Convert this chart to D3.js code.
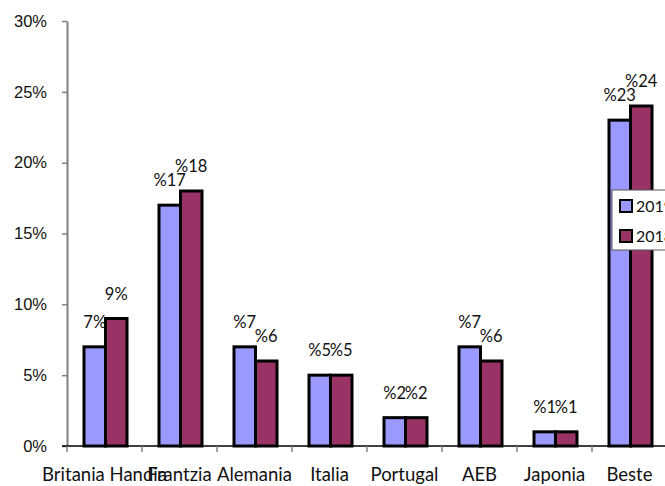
<!DOCTYPE html>
<html>
<head>
<meta charset="utf-8">
<script src="https://cdn.jsdelivr.net/npm/d3@7"></script>
<style>
  body { margin: 0; background: #fff; }
  svg { display: block; font-family: Lato, "Open Sans", sans-serif; }
  .y-axis .domain { stroke: #808080; stroke-width: 2px; }
  .y-axis .tick line { stroke: #808080; stroke-width: 1.5px; }
  .y-axis .tick text { font-size: 16.5px; fill: #111; }
  .x-axis .domain { stroke: #000; stroke-width: 1.5px; }
  .x-axis line { stroke: #808080; stroke-width: 1.5px; }
  .cat-label { font-size: 18.5px; fill: #111; }
  .val-label { font-size: 16.5px; fill: #111; }
  .legend text { font-size: 16px; fill: #111; }
</style>
</head>
<body>
<svg width="665" height="486"></svg>
<script>
// chart data
var categories = ['Britania Handia', 'Frantzia', 'Alemania', 'Italia', 'Portugal', 'AEB', 'Japonia', 'Beste'];
var series = ['2019', '2018'];
var values2019 = [7, 17, 7, 5, 2, 7, 1, 23];
var values2018 = [9, 18, 6, 5, 2, 6, 1, 24];
var labels2019 = ['7%', '%17', '%7', '%5', '%2', '%7', '%1', '%23'];
var labels2018 = ['9%', '%18', '%6', '%5', '%2', '%6', '%1', '%24'];
var yTicks = [0, 5, 10, 15, 20, 25, 30];

var colors = { '2019': '#9999ff', '2018': '#993366' };

var svg = d3.select('svg');

var x0 = d3.scaleBand().domain(categories).range([67, 667]);
var x1 = d3.scaleBand().domain(series).range([17, 60]);
var y = d3.scaleLinear().domain([0, 30]).range([446, 21]);

// y axis
svg.append('g')
  .attr('class', 'y-axis')
  .attr('transform', 'translate(67,0)')
  .call(d3.axisLeft(y).tickValues(yTicks).tickSize(5).tickSizeOuter(0).tickPadding(15)
    .tickFormat(function (d) { return d + '%'; }));

// rows of bar data
var rows = categories.map(function (c, i) {
  return {
    cat: c,
    bars: [
      { s: '2019', v: values2019[i], label: labels2019[i] },
      { s: '2018', v: values2018[i], label: labels2018[i] }
    ]
  };
});

var groups = svg.selectAll('g.cat')
  .data(rows)
  .enter()
  .append('g')
  .attr('class', 'cat')
  .attr('transform', function (d) { return 'translate(' + x0(d.cat) + ',0)'; });

groups.selectAll('rect')
  .data(function (d) { return d.bars; })
  .enter()
  .append('rect')
  .attr('x', function (d) { return x1(d.s); })
  .attr('y', function (d) { return y(d.v); })
  .attr('width', x1.bandwidth())
  .attr('height', function (d) { return y(0) - y(d.v); })
  .style('fill', function (d) { return colors[d.s]; })
  .style('stroke', '#000')
  .style('stroke-width', 3);

groups.selectAll('text.val-label')
  .data(function (d) { return d.bars; })
  .enter()
  .append('text')
  .attr('class', 'val-label')
  .attr('text-anchor', 'middle')
  .attr('x', function (d) { return x1(d.s) + x1.bandwidth() / 2; })
  .attr('y', function (d) { return y(d.v) - 19; })
  .text(function (d) { return d.label; });

// x axis
var xAxis = svg.append('g').attr('class', 'x-axis');
xAxis.append('line')
  .attr('class', 'domain')
  .attr('x1', 62).attr('x2', 667)
  .attr('y1', y(0)).attr('y2', y(0));
xAxis.selectAll('line.tk')
  .data(categories)
  .enter()
  .append('line')
  .attr('class', 'tk')
  .attr('x1', function (d) { return x0(d); })
  .attr('x2', function (d) { return x0(d); })
  .attr('y1', y(0))
  .attr('y2', y(0) + 6);
xAxis.selectAll('text')
  .data(categories)
  .enter()
  .append('text')
  .attr('class', 'cat-label')
  .attr('text-anchor', 'middle')
  .attr('x', function (d) { return x0(d) + x0.bandwidth() / 2; })
  .attr('y', 481)
  .text(function (d) { return d; });

// legend, cut by the right edge like the original
var legend = svg.append('g').attr('class', 'legend');
legend.append('rect')
  .attr('x', 612).attr('y', 190)
  .attr('width', 80).attr('height', 60)
  .style('fill', '#fff')
  .style('stroke', '#555')
  .style('stroke-width', 1);
series.forEach(function (s, i) {
  legend.append('rect')
    .attr('x', 620).attr('y', 200 + i * 30)
    .attr('width', 12).attr('height', 12)
    .style('fill', colors[s])
    .style('stroke', '#000')
    .style('stroke-width', 2);
  legend.append('text')
    .attr('x', 636).attr('y', 212 + i * 30)
    .text(s);
});
</script>
</body>
</html>
